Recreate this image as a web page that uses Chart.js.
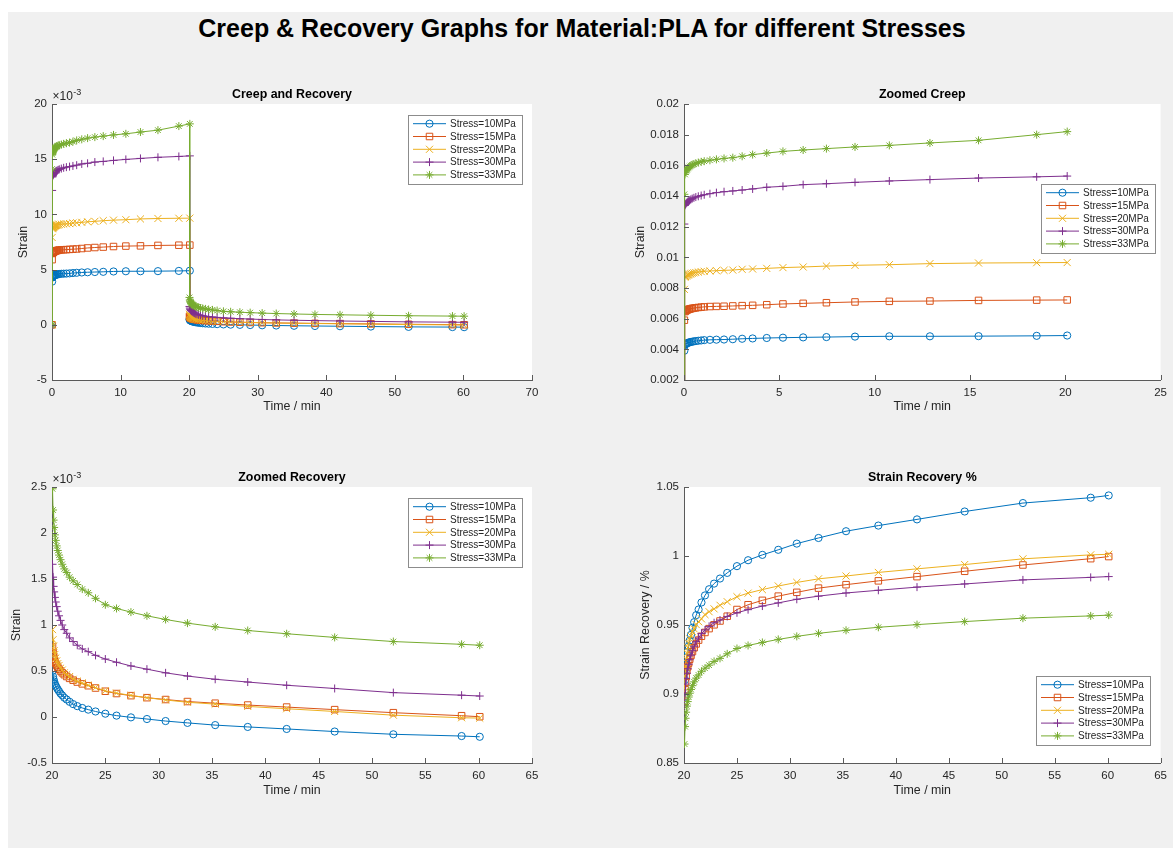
<!DOCTYPE html>
<html>
<head>
<meta charset="utf-8">
<title>Creep &amp; Recovery Graphs</title>
<script src="https://cdn.jsdelivr.net/npm/chart.js@4.4.1/dist/chart.umd.min.js"></script>
<style>
  html, body { margin: 0; padding: 0; background: #ffffff; }
  #figure { position: absolute; left: 8px; top: 12px; width: 1165px; height: 836px; background: #f0f0f0; }
  #suptitle {
    position: absolute; left: 0; top: 13px; width: 1164px; margin: 0;
    text-align: center; font: bold 25px "Liberation Sans", Arial, Helvetica, sans-serif;
    line-height: 30px; color: #000;
  }
  canvas { position: absolute; }
</style>
</head>
<body>
<div id="figure"></div>
<h1 id="suptitle">Creep &amp; Recovery Graphs for Material:PLA for different Stresses</h1>
<script>
"use strict";

// time stamps of the logged samples, minutes
const creepTime = [0, 0.02, 0.05, 0.08, 0.12, 0.16, 0.2, 0.25, 0.3, 0.36, 0.43, 0.52, 0.62, 0.75, 0.9, 1.06,
  1.36, 1.7, 2.1, 2.56, 3.05, 3.6, 4.34, 5.19, 6.25, 7.47, 8.97, 10.77, 12.9, 15.45, 18.5, 20.1];
const recoveryTime = [20.05, 20.1, 20.15, 20.2, 20.27, 20.35, 20.44, 20.54, 20.66, 20.8, 20.96, 21.15, 21.38,
  21.65, 21.98, 22.37, 22.84, 23.4, 24.08, 25.0, 26.05, 27.4, 28.9, 30.65, 32.7, 35.3, 38.35, 42.0, 46.5,
  52.0, 58.4, 60.1];

// strain under load, x10^-3
const creep10 = [0, 3.91, 4.28, 4.33, 4.37, 4.40, 4.42, 4.44, 4.46, 4.48, 4.50, 4.52, 4.54, 4.56, 4.58, 4.60,
  4.62, 4.63, 4.64, 4.66, 4.69, 4.71, 4.74, 4.76, 4.78, 4.80, 4.83, 4.85, 4.85, 4.86, 4.88, 4.90];
const creep15 = [0, 5.90, 6.46, 6.50, 6.54, 6.57, 6.59, 6.61, 6.63, 6.65, 6.67, 6.69, 6.71, 6.73, 6.75, 6.77,
  6.79, 6.80, 6.81, 6.83, 6.85, 6.87, 6.91, 6.96, 7.00, 7.04, 7.09, 7.13, 7.15, 7.19, 7.21, 7.22];
const creep20 = [0, 7.91, 8.70, 8.75, 8.79, 8.82, 8.85, 8.88, 8.90, 8.93, 8.96, 8.99, 9.01, 9.04, 9.07, 9.09,
  9.11, 9.13, 9.15, 9.17, 9.22, 9.24, 9.28, 9.33, 9.37, 9.43, 9.48, 9.52, 9.59, 9.63, 9.65, 9.66];
const creep30 = [0, 12.17, 13.39, 13.45, 13.52, 13.58, 13.63, 13.68, 13.73, 13.78, 13.83, 13.88, 13.93, 13.98,
  14.03, 14.08, 14.15, 14.22, 14.28, 14.33, 14.39, 14.46, 14.57, 14.63, 14.74, 14.80, 14.89, 14.98, 15.07,
  15.17, 15.25, 15.30];
const creep33 = [0, 14.11, 15.41, 15.55, 15.65, 15.73, 15.80, 15.86, 15.92, 15.98, 16.03, 16.08, 16.13, 16.18,
  16.23, 16.27, 16.33, 16.39, 16.45, 16.50, 16.59, 16.70, 16.80, 16.91, 17.00, 17.09, 17.20, 17.30, 17.46,
  17.63, 18.00, 18.20];

// strain after unloading, x10^-3
const recovery10 = [0.50, 0.44, 0.41, 0.385, 0.36, 0.34, 0.32, 0.30, 0.28, 0.255, 0.235, 0.21, 0.19, 0.165,
  0.14, 0.118, 0.098, 0.08, 0.06, 0.036, 0.015, -0.004, -0.022, -0.044, -0.064, -0.088, -0.108, -0.13,
  -0.158, -0.188, -0.207, -0.215];
const recovery15 = [0.76, 0.70, 0.66, 0.63, 0.60, 0.58, 0.56, 0.54, 0.52, 0.50, 0.48, 0.46, 0.44, 0.42, 0.40,
  0.38, 0.36, 0.34, 0.315, 0.28, 0.255, 0.232, 0.21, 0.19, 0.168, 0.15, 0.13, 0.108, 0.08, 0.047, 0.014, 0.003];
const recovery20 = [0.95, 0.84, 0.77, 0.72, 0.68, 0.64, 0.61, 0.58, 0.56, 0.53, 0.51, 0.48, 0.46, 0.44, 0.41,
  0.39, 0.37, 0.345, 0.32, 0.285, 0.26, 0.235, 0.21, 0.185, 0.16, 0.14, 0.115, 0.09, 0.06, 0.02, -0.008, -0.012];
const recovery30 = [1.66, 1.52, 1.42, 1.36, 1.30, 1.25, 1.20, 1.15, 1.10, 1.05, 1.00, 0.95, 0.91, 0.86, 0.82,
  0.78, 0.74, 0.71, 0.67, 0.63, 0.595, 0.555, 0.52, 0.48, 0.445, 0.41, 0.38, 0.345, 0.31, 0.265, 0.237, 0.228];
const recovery33 = [2.48, 2.25, 2.14, 2.06, 1.98, 1.92, 1.86, 1.81, 1.76, 1.71, 1.66, 1.61, 1.57, 1.52, 1.48,
  1.44, 1.39, 1.35, 1.29, 1.22, 1.18, 1.14, 1.10, 1.06, 1.02, 0.98, 0.94, 0.905, 0.865, 0.82, 0.79, 0.78];

const stressLabels = ["Stress=10MPa", "Stress=15MPa", "Stress=20MPa", "Stress=30MPa", "Stress=33MPa"];
const creepSeries = [creep10, creep15, creep20, creep30, creep33];
const recoverySeries = [recovery10, recovery15, recovery20, recovery30, recovery33];

// MATLAB default line colours and markers (o, s, x, +, *)
const seriesColors = ["#0072BD", "#D95319", "#EDB120", "#7E2F8E", "#77AC30"];
const seriesMarkers = ["circle", "rect", "crossRot", "cross", "star"];
const markerRadius = { circle: 3.6, rect: 4.6, crossRot: 5, cross: 4, star: 4 };

const fontFamily = '"Liberation Sans", Arial, Helvetica, sans-serif';
const axisColor = "#5a5a5a";
const textColor = "#262626";

function points(times, values) {
  return times.map((t, i) => ({ x: t, y: values[i] }));
}

// fraction of the strain at unloading that has been recovered
function recoveredFraction(i) {
  const atUnload = creepSeries[i][creepSeries[i].length - 1];
  return points(recoveryTime, recoverySeries[i].map(s => (atUnload - s) / atUnload));
}

function plainNumber(v) {
  return String(+v.toFixed(4));
}

// white axes box, inward ticks, subplot title, x10^-3 note and legend
const matlabAxes = {
  id: "matlabAxes",
  beforeDraw(chart) {
    const { ctx, chartArea: a } = chart;
    ctx.save();
    ctx.fillStyle = "#ffffff";
    ctx.fillRect(a.left, a.top, a.right - a.left, a.bottom - a.top);
    ctx.restore();
  },
  afterDraw(chart, args, opts) {
    const { ctx, chartArea: a } = chart;
    const xs = chart.scales.x, ys = chart.scales.y;
    ctx.save();

    ctx.strokeStyle = axisColor;
    ctx.lineWidth = 1;
    ctx.beginPath();
    xs.ticks.forEach(t => {
      const px = Math.round(xs.getPixelForValue(t.value)) + 0.5;
      ctx.moveTo(px, a.bottom);
      ctx.lineTo(px, a.bottom - 5);
    });
    ys.ticks.forEach(t => {
      const py = Math.round(ys.getPixelForValue(t.value)) + 0.5;
      ctx.moveTo(a.left, py);
      ctx.lineTo(a.left + 5, py);
    });
    ctx.stroke();

    ctx.fillStyle = "#000000";
    ctx.font = "bold 12.4px " + fontFamily;
    ctx.textAlign = "center";
    ctx.textBaseline = "middle";
    ctx.fillText(opts.title, (a.left + a.right) / 2, a.top - 9);

    if (opts.exponent) {
      ctx.fillStyle = textColor;
      ctx.textAlign = "left";
      ctx.font = "12px " + fontFamily;
      ctx.fillText("\u00d710", a.left + 0.5, a.top - 7);
      const w = ctx.measureText("\u00d710").width;
      ctx.font = "9px " + fontFamily;
      ctx.fillText("-3", a.left + w + 1, a.top - 11.5);
    }

    const lg = opts.legend;
    const w = 114, h = 69;
    const bx = Math.round(a.right - lg.right - w);
    const by = Math.round(lg.top != null ? a.top + lg.top : a.bottom - lg.bottom - h);
    ctx.fillStyle = "#ffffff";
    ctx.fillRect(bx, by, w, h);
    ctx.strokeStyle = "#8c8c8c";
    ctx.strokeRect(bx + 0.5, by + 0.5, w, h);
    ctx.font = "10px " + fontFamily;
    ctx.textAlign = "left";
    ctx.textBaseline = "middle";
    chart.data.datasets.forEach((ds, i) => {
      const cy = by + 8.7 + i * 12.8;
      ctx.strokeStyle = ds.borderColor;
      ctx.lineWidth = 1;
      ctx.beginPath();
      ctx.moveTo(bx + 5, cy);
      ctx.lineTo(bx + 38, cy);
      ctx.stroke();
      ctx.fillStyle = "rgba(0,0,0,0)";
      Chart.helpers.drawPoint(ctx, { pointStyle: ds.pointStyle, radius: ds.pointRadius, borderWidth: 1, rotation: 0 }, bx + 21.5, cy);
      ctx.fillStyle = textColor;
      ctx.fillText(ds.label, bx + 42, cy + 0.5);
    });

    ctx.restore();
  }
};

const panels = [
  {
    title: "Creep and Recovery", exponent: true,
    box: [0, 60, 580, 360], area: [52, 104, 532, 380],
    x: [0, 70, 10], y: [-5, 20, 5], yLabel: "Strain", yTitleX: 24, xTitleY: 407,
    yTicks: plainNumber, legend: { right: 10, top: 11 },
    series: i => points(creepTime.concat(recoveryTime), creepSeries[i].concat(recoverySeries[i]))
  },
  {
    title: "Zoomed Creep", exponent: false,
    box: [590, 60, 583, 360], area: [684, 104, 1164, 380],
    x: [0, 25, 5], y: [2, 20, 2], yLabel: "Strain", yTitleX: 641, xTitleY: 407,
    yTicks: v => plainNumber(v / 1000), legend: { right: 6, top: 80 },
    series: i => points(creepTime, creepSeries[i])
  },
  {
    title: "Zoomed Recovery", exponent: true,
    box: [0, 440, 580, 370], area: [52, 487, 532, 763],
    x: [20, 65, 5], y: [-0.5, 2.5, 0.5], yLabel: "Strain", yTitleX: 17, xTitleY: 791,
    yTicks: plainNumber, legend: { right: 10, top: 11 },
    series: i => points(recoveryTime, recoverySeries[i])
  },
  {
    title: "Strain Recovery %", exponent: false,
    box: [590, 440, 583, 370], area: [684, 487, 1164, 763],
    x: [20, 65, 5], y: [0.85, 1.05, 0.05], yLabel: "Strain Recovery / %", yTitleX: 646, xTitleY: 791,
    yTicks: plainNumber, legend: { right: 11, bottom: 18 },
    series: i => recoveredFraction(i)
  }
];

function drawPanel(p) {
  const [cx, cy, cw, ch] = p.box;
  const [al, at, ar, ab] = p.area;
  const canvas = document.createElement("canvas");
  canvas.width = cw;
  canvas.height = ch;
  canvas.style.left = cx + "px";
  canvas.style.top = cy + "px";
  canvas.style.width = cw + "px";
  canvas.style.height = ch + "px";
  document.body.appendChild(canvas);

  const halfLine = 12.4 * 1.2 / 2;
  const tickFont = { family: fontFamily, size: 11.5 };
  const labelFont = { family: fontFamily, size: 12.4 };

  return new Chart(canvas.getContext("2d"), {
    type: "scatter",
    data: {
      datasets: stressLabels.map((label, i) => ({
        label: label,
        data: p.series(i),
        showLine: true,
        borderColor: seriesColors[i],
        borderWidth: 1,
        tension: 0,
        pointStyle: seriesMarkers[i],
        pointRadius: markerRadius[seriesMarkers[i]],
        pointBorderWidth: 1,
        pointBorderColor: seriesColors[i],
        pointBackgroundColor: "rgba(0,0,0,0)",
        order: stressLabels.length - 1 - i
      }))
    },
    options: {
      responsive: false,
      animation: false,
      devicePixelRatio: 1,
      layout: { padding: { top: at - cy, right: cx + cw - ar, left: 0, bottom: 0 } },
      events: [],
      plugins: {
        legend: { display: false },
        tooltip: { enabled: false },
        matlabAxes: { title: p.title, exponent: p.exponent, legend: p.legend }
      },
      scales: {
        x: {
          type: "linear",
          position: "bottom",
          min: p.x[0],
          max: p.x[1],
          afterFit: s => { s.height = cy + ch - ab; },
          grid: { display: false, drawTicks: false },
          border: { display: true, color: axisColor, width: 1 },
          ticks: {
            stepSize: p.x[2], autoSkip: false, maxRotation: 0, padding: 6,
            color: textColor, font: tickFont, callback: v => plainNumber(v)
          },
          title: {
            display: true, text: "Time / min", color: textColor, font: labelFont,
            padding: { top: 0, bottom: cy + ch - p.xTitleY - halfLine }
          }
        },
        y: {
          type: "linear",
          position: "left",
          min: p.y[0],
          max: p.y[1],
          afterFit: s => { s.width = al - cx; },
          grid: { display: false, drawTicks: false },
          border: { display: true, color: axisColor, width: 1 },
          ticks: {
            stepSize: p.y[2], autoSkip: false, padding: 5,
            color: textColor, font: tickFont, callback: v => p.yTicks(v)
          },
          title: {
            display: true, text: p.yLabel, color: textColor, font: labelFont,
            padding: { top: p.yTitleX - cx - halfLine, bottom: 0 }
          }
        }
      }
    },
    plugins: [matlabAxes]
  });
}

panels.forEach(drawPanel);
</script>
</body>
</html>
